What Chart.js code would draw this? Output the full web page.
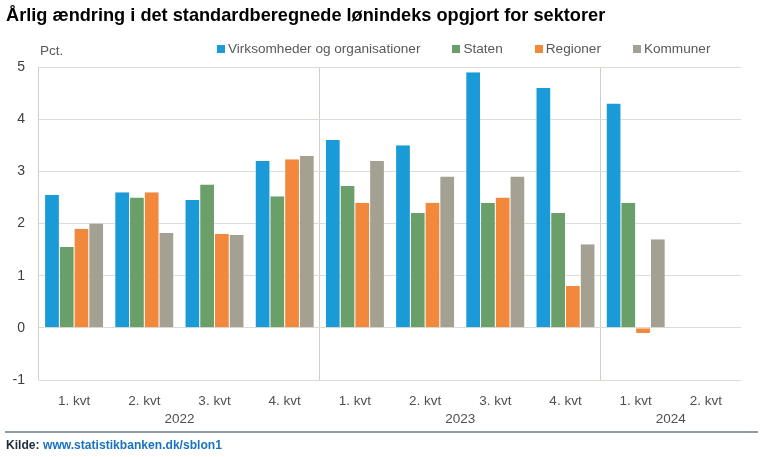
<!DOCTYPE html>
<html lang="da">
<head>
<meta charset="utf-8">
<title>Årlig ændring i det standardberegnede lønindeks</title>
<script src="https://cdn.jsdelivr.net/npm/chart.js@4.4.1/dist/chart.umd.min.js"></script>
<style>
  html, body { margin: 0; padding: 0; background: #fff; }
  #wrap { position: relative; width: 770px; height: 457px; overflow: hidden; }
  #title {
    position: absolute; left: 6px; top: 5px;
    font: bold 18.2px "Liberation Sans", Arial, sans-serif; color: #000;
    white-space: nowrap;
  }
  #unit {
    position: absolute; left: 40px; top: 43px;
    font: 13.5px "Liberation Sans", Arial, sans-serif; color: #595959;
  }
  #legend {
    position: absolute; left: 217px; top: 41px; display: flex;
    font: 13.6px "Liberation Sans", Arial, sans-serif; color: #595959;
  }
  #legend span { display: flex; align-items: center; margin-right: 32px; white-space: nowrap; }
  #legend i { display: inline-block; width: 8px; height: 8px; margin-right: 3px; }
  #rule { position: absolute; left: 5px; width: 753px; top: 431px; height: 2px; background: #8d9ba5; }
  #source {
    position: absolute; left: 6px; top: 438px;
    font: bold 12.1px "Liberation Sans", Arial, sans-serif; color: #1f2d3a;
  }
  #source a { color: #1a73c0; text-decoration: none; }
  canvas { position: absolute; left: 0; top: 0; }
</style>
</head>
<body>
<div id="wrap">
  <canvas id="chart" width="770" height="457"></canvas>
  <div id="title">Årlig ændring i det standardberegnede lønindeks opgjort for sektorer</div>
  <div id="unit">Pct.</div>
  <div id="legend"></div>
  <div id="rule"></div>
  <div id="source">Kilde: <a href="#">www.statistikbanken.dk/sblon1</a></div>
</div>
<script>
// Data
const quarters = ["1. kvt", "2. kvt", "3. kvt", "4. kvt", "1. kvt", "2. kvt", "3. kvt", "4. kvt", "1. kvt", "2. kvt"];
const years = ["2022", "2023", "2024"];
const yearSpans = [4, 4, 2];
const seriesNames = ["Virksomheder og organisationer", "Staten", "Regioner", "Kommuner"];
const virksomheder = [2.55, 2.6, 2.45, 3.2, 3.6, 3.5, 4.9, 4.6, 4.3, null];
const staten = [1.55, 2.5, 2.75, 2.52, 2.72, 2.2, 2.4, 2.2, 2.4, null];
const regioner = [1.9, 2.6, 1.8, 3.23, 2.4, 2.4, 2.5, 0.8, -0.1, null];
const kommuner = [2.0, 1.82, 1.78, 3.3, 3.2, 2.9, 2.9, 1.6, 1.7, null];
const colors = ["#1a9ad6", "#6a9f6a", "#f2883c", "#a5a192"];

const sans = '"Liberation Sans", Arial, sans-serif';

// Legend
const legend = document.getElementById("legend");
seriesNames.forEach((name, i) => {
  legend.innerHTML += `<span><i style="background:${colors[i]}"></i>${name}</span>`;
});

// Year labels under quarters
const yearLabels = {
  id: "yearLabels",
  afterDraw(chart) {
    const x = chart.scales.x;
    const ctx = chart.ctx;
    ctx.save();
    ctx.font = "13.5px " + sans;
    ctx.fillStyle = "#505050";
    ctx.textAlign = "center";
    ctx.textBaseline = "middle";
    let start = 0;
    years.forEach((y, i) => {
      const end = start + yearSpans[i] - 1;
      const cx = (x.getPixelForValue(start) + x.getPixelForValue(end)) / 2;
      ctx.fillText(y, cx, 419);
      start = end + 1;
    });
    ctx.restore();
  },
};

new Chart(document.getElementById("chart"), {
  type: "bar",
  data: {
    labels: quarters,
    datasets: [virksomheder, staten, regioner, kommuner].map((d, i) => ({
      label: seriesNames[i],
      data: d,
      backgroundColor: colors[i],
      borderColor: "#ffffff",
      borderWidth: { left: 0.5, right: 0.5, top: 0, bottom: 0 },
      borderSkipped: false,
      categoryPercentage: 0.84,
      barPercentage: 1,
    })),
  },
  options: {
    responsive: false,
    animation: false,
    layout: { padding: { top: 67, right: 29, bottom: 25, left: 0 } },
    plugins: { legend: { display: false }, tooltip: { enabled: false } },
    scales: {
      x: {
        grid: {
          offset: true,
          drawTicks: false,
          color: (c) => ([0, 4, 8].includes(c.index) ? "#cfcfc6" : "transparent"),
        },
        border: { display: false },
        ticks: { font: { family: sans, size: 13.5 }, color: "#505050", padding: 13, maxRotation: 0 },
        afterFit: (s) => { s.height = 52; },
      },
      y: {
        min: -1,
        max: 5,
        grid: { drawTicks: false, color: "#dcdcd6", lineWidth: 1 },
        border: { display: false },
        ticks: { stepSize: 1, font: { family: sans, size: 14 }, color: "#404040", padding: 14 },
        afterFit: (s) => { s.width = 39; },
      },
    },
  },
  plugins: [yearLabels],
});
</script>
</body>
</html>
